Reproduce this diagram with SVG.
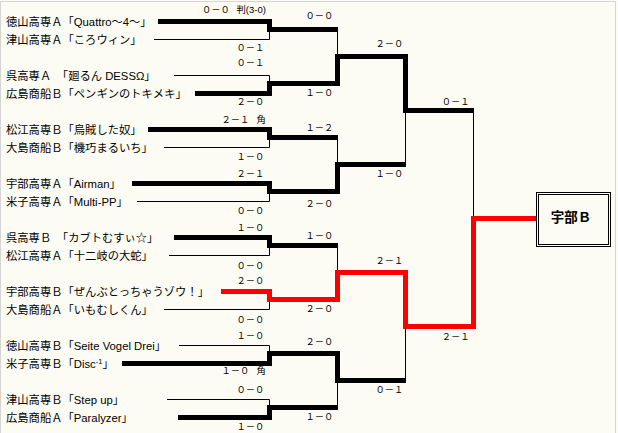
<svg xmlns="http://www.w3.org/2000/svg" width="618" height="433" viewBox="0 0 618 433">
<style>
.t{font-family:"Liberation Sans","Noto Sans CJK JP",sans-serif;font-size:11.3px;fill:#000}
.s{font-family:"Noto Sans CJK JP",sans-serif;font-size:9.3px;fill:#000}
.lat{font-family:"Liberation Sans",sans-serif;font-size:9.5px}
.thin{stroke:#000;stroke-width:1;fill:none}
.thick{stroke:#000;stroke-width:5;fill:none;stroke-linejoin:miter}
.red{stroke:#f00;stroke-width:5;fill:none;stroke-linejoin:miter}
.frame{stroke:#d4d4d4;stroke-width:1;fill:none}
</style>
<rect x="0" y="0" width="618" height="433" fill="#fcfcf4"/>
<path class="frame" d="M0.5,433 V1.5 H615.5 V433"/>

<g id="team1"><text class="t" x="6" y="25.7">徳山高専Ａ「Quattro～4～」</text></g>
<g id="team2"><text class="t" x="6" y="43.7">津山高専Ａ「ころウィン」</text></g>
<g id="team3"><text class="t" x="6" y="79.7">呉高専Ａ　「廻るん DESSΩ」</text></g>
<g id="team4"><text class="t" x="6" y="97.7">広島商船Ｂ「ペンギンのトキメキ」</text></g>
<g id="team5"><text class="t" x="6" y="133.7">松江高専Ｂ「烏賊した奴」</text></g>
<g id="team6"><text class="t" x="6" y="151.7">大島商船Ｂ「機巧まるいち」</text></g>
<g id="team7"><text class="t" x="6" y="187.7">宇部高専Ａ「Airman」</text></g>
<g id="team8"><text class="t" x="6" y="205.7">米子高専Ａ「Multi-PP」</text></g>
<g id="team9"><text class="t" x="6" y="241.7">呉高専Ｂ　「カブトむすぃ☆」</text></g>
<g id="team10"><text class="t" x="6" y="259.7">松江高専Ａ「十二岐の大蛇」</text></g>
<g id="team11"><text class="t" x="6" y="295.7">宇部高専Ｂ「ぜんぶとっちゃうゾウ！」</text></g>
<g id="team12"><text class="t" x="6" y="313.7">大島商船Ａ「いもむしくん」</text></g>
<g id="team13"><text class="t" x="6" y="349.7">徳山高専Ｂ「Seite Vogel Drei」</text></g>
<g id="team14"><text class="t" x="6" y="367.7">米子高専Ｂ「Disc<tspan font-size="7.5" dy="-4">-1</tspan><tspan dy="4">」</tspan></text></g>
<g id="team15"><text class="t" x="6" y="403.7">津山高専Ｂ「Step up」</text></g>
<g id="team16"><text class="t" x="6" y="421.7">広島商船Ａ「Paralyzer」</text></g>

<g id="connectors">
  <path class="thin" d="M158,21.5 H269.5 V39.5 H154"/>
  <path class="thin" d="M174,75.5 H269.5 V93.5 H195"/>
  <path class="thin" d="M148,129.5 H269.5 V147.5 H164"/>
  <path class="thin" d="M132,183.5 H269.5 V201.5 H137"/>
  <path class="thin" d="M174,237.5 H269.5 V255.5 H169"/>
  <path class="thin" d="M221,291.5 H269.5 V309.5 H164"/>
  <path class="thin" d="M179,345.5 H269.5 V363.5 H122"/>
  <path class="thin" d="M167,399.5 H269.5 V417.5 H178"/>
  <path class="thin" d="M269.5,29.5 H337.5 V83.5 H269.5"/>
  <path class="thin" d="M269.5,137.5 H337.5 V191.5 H269.5"/>
  <path class="thin" d="M269.5,245.5 H337.5 V299.5 H269.5"/>
  <path class="thin" d="M269.5,353.5 H337.5 V407.5 H269.5"/>
  <path class="thin" d="M337.5,56.5 H405.5 V164.5 H337.5"/>
  <path class="thin" d="M337.5,272.5 H405.5 V380.5 H337.5"/>
  <path class="thin" d="M405.5,110.5 H473.5 V326.5 H405.5"/>

  <path class="thick" d="M158,21.5 H269.5 V29.5 H338"/>
  <path class="thick" d="M195,93.5 H269.5 V83.5 H337.5 V56.5 H405.5 V110.5 H474"/>
  <path class="thick" d="M148,129.5 H269.5 V137.5 H338"/>
  <path class="thick" d="M132,183.5 H269.5 V191.5 H337.5 V164.5 H406"/>
  <path class="thick" d="M174,237.5 H269.5 V245.5 H338"/>
  <path class="thick" d="M122,363.5 H269.5 V353.5 H337.5 V380.5 H406"/>
  <path class="thick" d="M178,417.5 H269.5 V407.5 H338"/>
  <path class="red" d="M221,291.5 H269.5 V299.5 H337.5 V272.5 H405.5 V326.5 H473.5 V218.5 H536.5"/>
</g>

<g id="scores">
  <text class="s" x="202" y="13">０－０<tspan x="236.5">判</tspan><tspan class="lat">(3-0)</tspan></text>
  <text class="s" x="236.5" y="51">０－１</text>
  <text class="s" x="236.5" y="66">０－１</text>
  <text class="s" x="236.5" y="105">２－０</text>
  <text class="s" x="221.5" y="122.5">２－１<tspan x="256.5">角</tspan></text>
  <text class="s" x="236.5" y="160">１－０</text>
  <text class="s" x="236.5" y="177">２－１</text>
  <text class="s" x="236.5" y="213.5">０－０</text>
  <text class="s" x="236.5" y="231">１－０</text>
  <text class="s" x="236.5" y="268.5">０－０</text>
  <text class="s" x="236.5" y="284">２－０</text>
  <text class="s" x="236.5" y="322.5">０－０</text>
  <text class="s" x="236.5" y="338.5">１－０</text>
  <text class="s" x="221.5" y="374">１－０<tspan x="256.5">角</tspan></text>
  <text class="s" x="236.5" y="392.5">０－０</text>
  <text class="s" x="236.5" y="430">１－０</text>

  <text class="s" x="305.5" y="19">０－０</text>
  <text class="s" x="305.5" y="95.5">１－０</text>
  <text class="s" x="305.5" y="131">１－２</text>
  <text class="s" x="305.5" y="206.5">２－０</text>
  <text class="s" x="305.5" y="239.3">１－０</text>
  <text class="s" x="305.5" y="311.5">２－０</text>
  <text class="s" x="305.5" y="345">２－０</text>
  <text class="s" x="305.5" y="420">１－０</text>

  <text class="s" x="375.5" y="46.7">２－０</text>
  <text class="s" x="375.5" y="176.7">１－０</text>
  <text class="s" x="375.5" y="264">２－１</text>
  <text class="s" x="375.5" y="392.7">０－１</text>

  <text class="s" x="441.7" y="105">０－１</text>
  <text class="s" x="441.7" y="339.5">２－１</text>
</g>

<g id="champion">
  <rect x="536.5" y="192.5" width="74" height="54" fill="none" stroke="#000" stroke-width="1"/>
  <rect x="538.5" y="194.5" width="70" height="50" fill="none" stroke="#000" stroke-width="1"/>
  <text x="571" y="221.5" text-anchor="middle" font-family="'Noto Sans CJK JP',sans-serif" font-size="13.5" font-weight="bold">宇部Ｂ</text>
</g>
</svg>
